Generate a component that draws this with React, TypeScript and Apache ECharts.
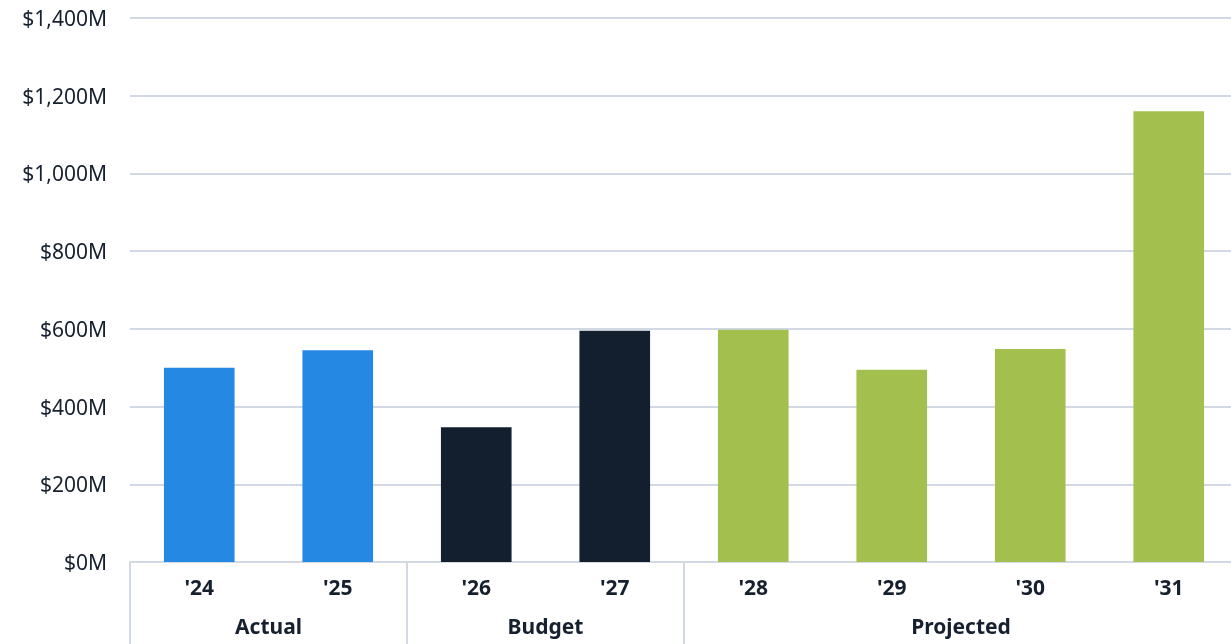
import React, { useEffect, useRef } from "react";
import * as echarts from "echarts";

const years = ["'24", "'25", "'26", "'27", "'28", "'29", "'30", "'31"];
const values = [500, 545, 347, 595, 598, 495, 548, 1160];
const groupOfYear = ["Actual", "Actual", "Budget", "Budget", "Projected", "Projected", "Projected", "Projected"];
const groupNames = ["Actual", "Budget", "Projected"];
const groupColors: Record<string, string> = {
  Actual: "#2589e3",
  Budget: "#131f2f",
  Projected: "#a3bf4e",
};
const yTicks = [0, 200, 400, 600, 800, 1000, 1200, 1400];

export default function App() {
  const ref = useRef<HTMLDivElement>(null);
  useEffect(() => {
    if (!ref.current) return;
    const chart = echarts.init(ref.current, undefined, { renderer: "svg" });
    const spans = groupNames.map((g) => {
      const idx = groupOfYear.map((x, i) => (x === g ? i : -1)).filter((i) => i >= 0);
      return { name: g, start: idx[0], end: idx[idx.length - 1] };
    });
    const labelCenters = spans.map((s) => (s.start + s.end) / 2);
    const sepValues = spans.map((s) => s.start - 0.5);
    const font = "'Noto Sans', sans-serif";
    const textColor = "#16202e";
    const lineColor = "#d3d9e4";
    chart.setOption({
      animation: false,
      grid: { left: 130, right: 0, top: 18, bottom: 82 },
      xAxis: [
        {
          type: "category",
          data: years,
          position: "bottom",
          axisLine: { show: true, lineStyle: { color: lineColor, width: 2 } },
          axisTick: { show: false },
          axisLabel: {
            color: textColor,
            fontFamily: font,
            fontWeight: "bold",
            fontSize: 21,
            margin: 14,
          },
        },
        {
          type: "value",
          min: -0.5,
          max: years.length - 0.5,
          position: "bottom",
          axisLine: { show: false },
          splitLine: { show: false },
          axisTick: {
            show: true,
            customValues: sepValues,
            length: 82,
            lineStyle: { color: lineColor, width: 2 },
          },
          axisLabel: {
            customValues: labelCenters,
            formatter: (v: number) => {
              const i = labelCenters.findIndex((c) => Math.abs(c - v) < 1e-6);
              return i >= 0 ? groupNames[i] : "";
            },
            color: textColor,
            fontFamily: font,
            fontWeight: "bold",
            fontSize: 21,
            margin: 53,
          },
        },
      ],
      yAxis: {
        type: "value",
        min: yTicks[0],
        max: yTicks[yTicks.length - 1],
        interval: yTicks[1] - yTicks[0],
        axisLine: { show: false },
        axisTick: { show: false },
        splitLine: { lineStyle: { color: lineColor, width: 2 } },
        axisLabel: {
          formatter: (v: number) => "$" + v.toLocaleString("en-US") + "M",
          color: textColor,
          fontFamily: font,
          fontSize: 21,
          margin: 23,
        },
      },
      series: [
        {
          type: "bar",
          xAxisIndex: 0,
          barWidth: "51%",
          data: values.map((v, i) => ({
            value: v,
            itemStyle: { color: groupColors[groupOfYear[i]] },
          })),
        },
      ],
    });
    return () => chart.dispose();
  }, []);
  return (
    <div style={{ position: "fixed", left: 0, top: 0, width: 1231, height: 644, overflow: "hidden" }}>
      <div ref={ref} style={{ width: 1238, height: 644 }} />
    </div>
  );
}
